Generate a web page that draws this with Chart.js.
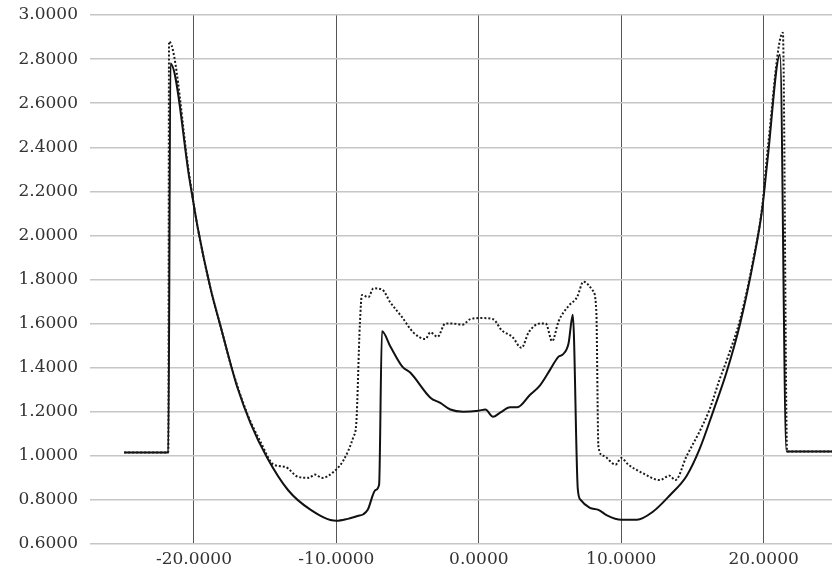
<!DOCTYPE html>
<html>
<head>
<meta charset="utf-8">
<title>Profile</title>
<script src="https://cdn.jsdelivr.net/npm/chart.js@4.4.0/dist/chart.umd.min.js"></script>
<style>
  html, body { margin: 0; padding: 0; background: #fff; }
  #wrap { width: 832px; height: 572px; position: relative; }
</style>
</head>
<body>
<div id="wrap"><canvas id="grafica"></canvas></div>
<script>
// solid curve
const solidX = [-24.9, -21.8, -21.65, -20.3, -19.75, -18.84, -18.1, -17.4, -16.95, -16.04, -14.85, -13.4, -11.8, -10.0, -9.2, -8.5, -8.1, -7.8, -7.25, -7.0, -6.8, -6.2, -5.37, -4.8, -3.4, -2.7, -2.0, -1.1, 0.0, 0.46, 1.0, 1.5, 2.2, 2.7, 3.6, 4.3, 5.0, 5.6, 5.9, 6.3, 6.6, 6.95, 7.15, 7.8, 8.4, 9.0, 10.0, 11.1, 12.2, 13.4, 14.6, 15.5, 16.5, 17.4, 18.35, 19.3, 19.9, 20.3, 21.15, 21.6, 24.8];
const solidY = [1.015, 1.015, 2.78, 2.25, 2.04, 1.76, 1.58, 1.41, 1.31, 1.15, 0.99, 0.845, 0.755, 0.705, 0.714, 0.727, 0.735, 0.755, 0.845, 0.87, 1.565, 1.495, 1.405, 1.377, 1.264, 1.24, 1.21, 1.2, 1.205, 1.21, 1.177, 1.196, 1.22, 1.22, 1.277, 1.32, 1.39, 1.45, 1.46, 1.51, 1.64, 0.85, 0.8, 0.764, 0.755, 0.73, 0.71, 0.71, 0.745, 0.82, 0.91, 1.03, 1.21, 1.38, 1.6, 1.89, 2.12, 2.36, 2.82, 1.02, 1.02];

// dotted curve
const dottedX = [-24.9, -21.8, -21.75, -20.3, -19.75, -18.84, -18.1, -17.4, -16.25, -15.3, -14.4, -13.6, -12.7, -11.95, -11.5, -11.0, -10.2, -9.5, -8.8, -8.6, -8.35, -8.2, -7.75, -7.4, -6.8, -6.2, -5.4, -4.6, -3.75, -3.4, -2.9, -2.35, -1.8, -1.15, -0.6, 0.1, 1.0, 1.6, 2.35, 3.0, 3.5, 4.3, 4.7, 5.15, 5.6, 6.3, 6.9, 7.35, 8.0, 8.25, 8.4, 8.75, 9.6, 10.0, 10.5, 11.55, 12.7, 13.4, 13.8, 14.6, 15.5, 16.2, 16.9, 17.5, 18.35, 19.3, 19.9, 20.3, 21.35, 21.65, 24.8];
const dottedY = [1.015, 1.015, 2.88, 2.26, 2.04, 1.76, 1.58, 1.41, 1.19, 1.06, 0.96, 0.95, 0.905, 0.9, 0.915, 0.9, 0.927, 0.98, 1.087, 1.15, 1.6, 1.73, 1.72, 1.76, 1.755, 1.695, 1.63, 1.56, 1.53, 1.56, 1.54, 1.6, 1.6, 1.595, 1.62, 1.625, 1.62, 1.57, 1.54, 1.49, 1.56, 1.6, 1.6, 1.52, 1.61, 1.68, 1.72, 1.79, 1.75, 1.66, 1.04, 1.0, 0.96, 0.99, 0.96, 0.92, 0.89, 0.91, 0.89, 1.0, 1.11, 1.21, 1.345, 1.45, 1.62, 1.9, 2.13, 2.4, 2.92, 1.02, 1.02];

// eje x
const xTicks = [-20, -10, 0, 10, 20];

const toPoints = (xs, ys) => xs.map((x, i) => ({ x: x, y: ys[i] }));

const fuente = { family: "'DejaVu Serif', 'Liberation Serif', serif", size: 17 };

new Chart(document.getElementById('grafica').getContext('2d'), {
    type: 'scatter',
    data: {
        datasets: [
            {
                data: toPoints(dottedX, dottedY),
                showLine: true,
                borderColor: '#1a1a1a',
                borderWidth: 2,
                borderDash: [2, 2],
                pointRadius: 0,
                cubicInterpolationMode: 'monotone'
            },
            {
                data: toPoints(solidX, solidY),
                showLine: true,
                borderColor: '#111',
                borderWidth: 2,
                pointRadius: 0,
                cubicInterpolationMode: 'monotone'
            }
        ]
    },
    options: {
        responsive: true,
        maintainAspectRatio: false,
        animation: false,
        layout: { padding: { top: 15, right: 0, bottom: 0, left: 0 } },
        plugins: {
            legend: { display: false },
            tooltip: { enabled: false }
        },
        scales: {
            x: {
                type: 'linear',
                min: -27.3,
                max: 24.8,
                border: { display: false },
                grid: { color: '#555', lineWidth: 1, drawTicks: false },
                afterBuildTicks: (scale) => {
                    scale.ticks = xTicks.map(v => ({ value: v }));
                },
                afterFit: (scale) => { scale.height = 28; },
                ticks: {
                    font: fuente,
                    color: '#333',
                    padding: 5,
                    maxRotation: 0,
                    callback: (v) => Number(v).toFixed(4)
                }
            },
            y: {
                min: 0.6,
                max: 3.0,
                border: { display: false },
                grid: { color: '#c6c6c6', lineWidth: 1.5, drawTicks: false },
                afterFit: (scale) => {
                    scale.width = 90;
                    scale.paddingTop = 0; // la etiqueta 3.0000 puede salirse un poco arriba
                },
                ticks: {
                    stepSize: 0.2,
                    font: fuente,
                    color: '#333',
                    padding: 12,
                    callback: (v) => Number(v).toFixed(4)
                }
            }
        }
    }
});
</script>
</body>
</html>
